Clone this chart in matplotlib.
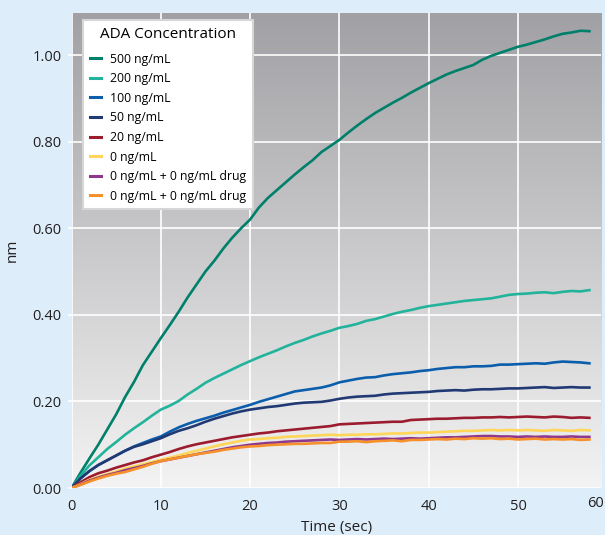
import numpy as np
import matplotlib
matplotlib.use("Agg")
import matplotlib.pyplot as plt
from matplotlib.colors import LinearSegmentedColormap

plt.rcParams['font.family'] = ['Open Sans', 'DejaVu Sans']

# time axis (sec)
t = list(range(0, 59))

ng500 = [0, 0.035, 0.068, 0.100, 0.135, 0.170, 0.210, 0.245, 0.284, 0.315,
         0.346, 0.376, 0.407, 0.440, 0.470, 0.500, 0.525, 0.553, 0.578, 0.600,
         0.620, 0.648, 0.670, 0.688, 0.706, 0.724, 0.741, 0.757, 0.776, 0.790,
         0.804, 0.821, 0.837, 0.852, 0.866, 0.878, 0.890, 0.901, 0.913, 0.924,
         0.935, 0.945, 0.955, 0.963, 0.970, 0.977, 0.989, 0.998, 1.005, 1.012,
         1.019, 1.024, 1.030, 1.036, 1.043, 1.049, 1.052, 1.056, 1.055]
ng200 = [0, 0.028, 0.052, 0.071, 0.090, 0.106, 0.123, 0.138, 0.152, 0.167,
         0.181, 0.190, 0.201, 0.216, 0.229, 0.243, 0.254, 0.264, 0.274, 0.284,
         0.293, 0.302, 0.310, 0.318, 0.327, 0.335, 0.342, 0.350, 0.357, 0.363,
         0.370, 0.374, 0.379, 0.386, 0.390, 0.396, 0.402, 0.407, 0.411, 0.416,
         0.420, 0.423, 0.426, 0.429, 0.432, 0.434, 0.436, 0.438, 0.442, 0.446,
         0.448, 0.449, 0.451, 0.452, 0.450, 0.453, 0.455, 0.454, 0.457]
ng100 = [0, 0.022, 0.039, 0.053, 0.064, 0.075, 0.086, 0.096, 0.104, 0.112,
         0.119, 0.130, 0.140, 0.148, 0.155, 0.161, 0.167, 0.174, 0.180, 0.186,
         0.192, 0.199, 0.205, 0.211, 0.217, 0.223, 0.226, 0.229, 0.232, 0.237,
         0.244, 0.248, 0.252, 0.255, 0.256, 0.260, 0.263, 0.265, 0.267, 0.270,
         0.272, 0.275, 0.277, 0.279, 0.279, 0.281, 0.281, 0.282, 0.285, 0.285,
         0.286, 0.287, 0.288, 0.287, 0.290, 0.292, 0.291, 0.290, 0.288]
ng50 = [0, 0.022, 0.039, 0.053, 0.064, 0.075, 0.086, 0.095, 0.101, 0.108,
        0.115, 0.124, 0.132, 0.138, 0.145, 0.153, 0.160, 0.166, 0.172, 0.177,
        0.181, 0.184, 0.187, 0.189, 0.192, 0.195, 0.197, 0.198, 0.199, 0.202,
        0.206, 0.209, 0.211, 0.212, 0.213, 0.216, 0.218, 0.219, 0.220, 0.221,
        0.222, 0.224, 0.225, 0.226, 0.225, 0.227, 0.228, 0.228, 0.229, 0.230,
        0.230, 0.231, 0.232, 0.233, 0.231, 0.232, 0.233, 0.232, 0.232]
ng20 = [0, 0.013, 0.025, 0.034, 0.040, 0.047, 0.053, 0.059, 0.064, 0.071,
        0.077, 0.083, 0.090, 0.096, 0.101, 0.105, 0.109, 0.113, 0.117, 0.120,
        0.123, 0.126, 0.128, 0.131, 0.133, 0.135, 0.137, 0.139, 0.141, 0.143,
        0.147, 0.148, 0.149, 0.150, 0.151, 0.152, 0.153, 0.153, 0.157, 0.158,
        0.159, 0.160, 0.160, 0.161, 0.162, 0.162, 0.163, 0.163, 0.164, 0.163,
        0.164, 0.165, 0.164, 0.163, 0.165, 0.164, 0.162, 0.163, 0.162]
ng0 = [0, 0.009, 0.019, 0.026, 0.032, 0.038, 0.045, 0.050, 0.055, 0.060,
       0.065, 0.070, 0.075, 0.081, 0.086, 0.091, 0.096, 0.101, 0.105, 0.109,
       0.112, 0.113, 0.115, 0.116, 0.118, 0.119, 0.120, 0.121, 0.122, 0.123,
       0.122, 0.123, 0.123, 0.124, 0.124, 0.125, 0.126, 0.126, 0.127, 0.128,
       0.128, 0.129, 0.130, 0.131, 0.132, 0.132, 0.133, 0.134, 0.133, 0.134,
       0.133, 0.134, 0.133, 0.132, 0.134, 0.133, 0.132, 0.134, 0.133]
drug_a = [0, 0.008, 0.017, 0.024, 0.030, 0.035, 0.041, 0.046, 0.051, 0.057,
          0.062, 0.066, 0.070, 0.074, 0.078, 0.082, 0.086, 0.090, 0.094, 0.097,
          0.100, 0.102, 0.104, 0.105, 0.107, 0.108, 0.109, 0.110, 0.111, 0.112,
          0.111, 0.112, 0.113, 0.112, 0.113, 0.114, 0.113, 0.114, 0.115, 0.114,
          0.115, 0.116, 0.117, 0.117, 0.118, 0.119, 0.120, 0.120, 0.119, 0.119,
          0.118, 0.119, 0.118, 0.119, 0.118, 0.118, 0.119, 0.118, 0.118]
drug_b = [0, 0.007, 0.015, 0.022, 0.028, 0.033, 0.037, 0.043, 0.049, 0.056,
          0.062, 0.066, 0.070, 0.074, 0.078, 0.081, 0.084, 0.088, 0.091, 0.094,
          0.096, 0.097, 0.099, 0.100, 0.101, 0.102, 0.102, 0.103, 0.104, 0.104,
          0.107, 0.107, 0.108, 0.106, 0.108, 0.109, 0.110, 0.108, 0.111, 0.111,
          0.112, 0.113, 0.112, 0.114, 0.113, 0.115, 0.114, 0.115, 0.113, 0.114,
          0.112, 0.113, 0.114, 0.112, 0.113, 0.112, 0.113, 0.111, 0.112]

labels = ["500 ng/mL", "200 ng/mL", "100 ng/mL", "50 ng/mL", "20 ng/mL",
          "0 ng/mL", "0 ng/mL + 0 ng/mL drug", "0 ng/mL + 0 ng/mL drug"]
series = [ng500, ng200, ng100, ng50, ng20, ng0, drug_a, drug_b]
colors = ["#00806a", "#22b39b", "#0b5eac", "#213a74", "#9b1c2f",
          "#ffd657", "#8f378d", "#f6902a"]

xticks = [0, 10, 20, 30, 40, 50]
yticks = [0.0, 0.2, 0.4, 0.6, 0.8, 1.0]

fig = plt.figure(figsize=(6.05, 5.35), dpi=100, facecolor="#ddeefa")
ax = fig.add_axes([71.5/605, 47/535, 529.5/605, 475/535])

# gray vertical gradient behind the data
cmap = LinearSegmentedColormap.from_list("bg", ["#f3f3f3", "#a1a1a5"])
grad = np.linspace(0, 1, 256).reshape(-1, 1)
ax.imshow(grad, extent=[0, 1, 0, 1], transform=ax.transAxes, aspect="auto",
          origin="lower", cmap=cmap, zorder=0)

for y, lab, c in zip(series, labels, colors):
    ax.plot(t, y, color=c, lw=1.9, label=lab, zorder=3)

ax.set_xlim(0, 59.3)
ax.set_ylim(0, 1.097)
ax.set_xticks(xticks)
ax.set_yticks(yticks)
ax.set_yticklabels(["%.2f" % v for v in yticks])
ax.grid(True, color="white", lw=1.2, zorder=1)
ax.set_axisbelow(True)
for s in ax.spines.values():
    s.set_visible(False)
ax.tick_params(axis="y", colors="white", length=3, width=1.2, pad=4,
               labelcolor="#231f20", labelsize=10.5)
ax.tick_params(axis="x", length=0, pad=8, labelcolor="#231f20", labelsize=10.5)
ax.annotate("60", xy=(1, 0), xycoords="axes fraction", xytext=(3, -8),
            textcoords="offset pixels", ha="right", va="top",
            fontsize=10.5, color="#231f20")

ax.set_xlabel("Time (sec)", fontsize=11, color="#231f20", labelpad=4)
ax.set_ylabel("nm", fontsize=11, color="#231f20", labelpad=9)

leg = ax.legend(loc="upper left", bbox_to_anchor=(83/605, 1 - 20/535),
                bbox_transform=fig.transFigure, borderaxespad=0,
                title="ADA Concentration", title_fontsize=11, fontsize=8.8,
                frameon=True, fancybox=False, handlelength=0.9,
                handletextpad=0.8, labelspacing=0.54, borderpad=0.55)
# a little more room between the title and the first entry
leg._legend_box.sep = 7.8
leg.get_frame().set_facecolor("white")
leg.get_frame().set_edgecolor("#d6d6d6")
leg.get_frame().set_linewidth(1.5)
leg.get_frame().set_alpha(1)
leg.set_zorder(5)
for h in leg.get_lines():
    h.set_linewidth(2.2)

fig.savefig("out.png", dpi=100, facecolor=fig.get_facecolor())
